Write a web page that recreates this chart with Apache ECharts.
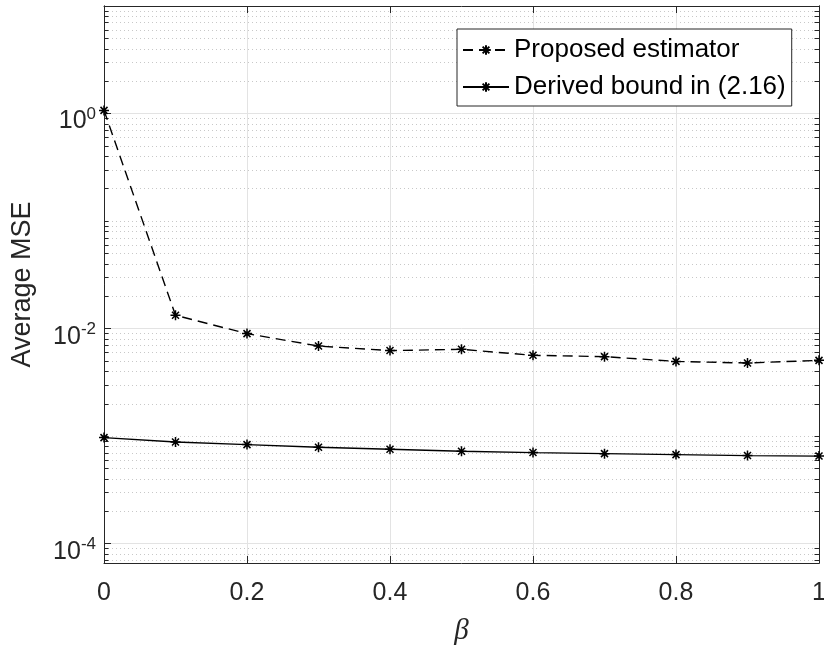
<!DOCTYPE html>
<html>
<head>
<meta charset="utf-8">
<script src="https://cdn.jsdelivr.net/npm/echarts@6/dist/echarts.min.js"></script>
<style>
  html, body { margin: 0; padding: 0; background: #fff; }
  #chart { width: 824px; height: 646px; }
</style>
</head>
<body>
<div id="chart"></div>
<script>
// beta values on the horizontal axis
const betaValues = [0, 0.1, 0.2, 0.3, 0.4, 0.5, 0.6, 0.7, 0.8, 0.9, 1.0];
// Average MSE of the proposed estimator
const proposedMSE = [1.07, 0.0133, 0.00899, 0.00689, 0.00625, 0.00642, 0.00565, 0.00549, 0.00496, 0.00479, 0.00507];
// Derived bound in (2.16)
const boundMSE = [0.000970, 0.000883, 0.000835, 0.000789, 0.000756, 0.000724, 0.000704, 0.000688, 0.000674, 0.000660, 0.000653];
// Labelled decades on the log axis
const majorTicksY = [1e-4, 1e-2, 1];
const yMin = 6.62e-5;
const yMax = 10;

// minor ticks: every 1..9 x 10^k inside the range, except the labelled decades
const minorTicksY = [];
for (let k = -5; k <= 1; k++) {
  for (let m = 1; m <= 9; m++) {
    const v = +(m * Math.pow(10, k)).toPrecision(6);
    if (v >= yMin && v <= yMax && majorTicksY.indexOf(v) < 0) minorTicksY.push(v);
  }
}

const axisColor = '#262626';
const font = 'Liberation Sans, Arial, Helvetica, sans-serif';

const asterisk = 'path://M0,5L10,5M5,0L5,10M1.5,1.5L8.5,8.5M1.5,8.5L8.5,1.5';

function seriesFor(name, values, dashed) {
  return {
    name: name,
    type: 'line',
    xAxisIndex: 0,
    yAxisIndex: 0,
    data: betaValues.map((b, i) => [b, values[i]]),
    symbol: asterisk,
    symbolSize: 10,
    showAllSymbol: true,
    lineStyle: { color: '#000', width: 1.4, type: dashed ? [10, 6] : 'solid' },
    itemStyle: { color: '#000', borderColor: '#000', borderWidth: 1.5 },
    emphasis: { disabled: true },
    animation: false,
    z: 5
  };
}

function logAxis(position, ticks, opts) {
  return Object.assign({
    type: 'log',
    logBase: 10,
    position: position,
    min: yMin,
    max: yMax,
    axisLine: { show: true, onZero: false, lineStyle: { color: axisColor, width: 1 } },
    axisTick: { show: true, inside: true, length: 7, customValues: ticks, lineStyle: { color: axisColor } },
    axisLabel: { show: false },
    splitLine: { show: false },
    minorTick: { show: false },
    minorSplitLine: { show: false }
  }, opts);
}

const chart = echarts.init(document.getElementById('chart'), null, { renderer: 'canvas' });

chart.setOption({
  animation: false,
  backgroundColor: '#ffffff',
  textStyle: { fontFamily: font, color: axisColor },
  grid: { left: 104, right: 5, top: 6, bottom: 83, containLabel: false, outerBoundsMode: 'none' },
  legend: {
    orient: 'vertical',
    left: 457,
    top: 29,
    padding: [8, 6, 6, 5],
    itemGap: 11,
    itemWidth: 46,
    itemHeight: 12,
    backgroundColor: '#ffffff',
    borderColor: axisColor,
    borderWidth: 1,
    borderRadius: 0,
    textStyle: { fontFamily: font, fontSize: 26, color: '#000', lineHeight: 26 },
    data: ['Proposed estimator', 'Derived bound in (2.16)']
  },
  xAxis: [
    {
      type: 'value',
      position: 'bottom',
      min: 0, max: 1, interval: 0.2,
      name: 'β',
      nameLocation: 'middle',
      nameGap: 54,
      nameMoveOverlap: false,
      nameTextStyle: { fontFamily: 'Liberation Serif, serif', fontStyle: 'italic', fontSize: 29, color: axisColor },
      axisLine: { show: true, onZero: false, lineStyle: { color: axisColor } },
      axisTick: { show: true, inside: true, length: 7, lineStyle: { color: axisColor } },
      axisLabel: { fontSize: 25, color: axisColor, margin: 18, fontFamily: font,
        formatter: v => String(+v.toFixed(1)) },
      splitLine: { show: true, lineStyle: { color: '#e3e3e3', width: 1 } }
    },
    {
      type: 'value',
      position: 'top',
      min: 0, max: 1, interval: 0.2,
      axisLine: { show: true, onZero: false, lineStyle: { color: axisColor } },
      axisTick: { show: true, inside: true, length: 7, lineStyle: { color: axisColor } },
      axisLabel: { show: false },
      splitLine: { show: false }
    }
  ],
  yAxis: [
    // labelled decades with solid grid lines
    logAxis('left', majorTicksY, {
      name: 'Average MSE',
      nameLocation: 'middle',
      nameGap: 68,
      nameMoveOverlap: false,
      nameTextStyle: { fontFamily: font, fontSize: 27, color: axisColor },
      axisLabel: {
        show: true,
        customValues: majorTicksY,
        margin: 8,
        padding: [8, 0, 0, 0],
        formatter: v => '{b|10}{e|' + Math.round(Math.log10(v)) + '}',
        rich: {
          b: { fontFamily: font, fontSize: 25, color: axisColor, padding: [8, 0, 0, 0] },
          e: { fontFamily: font, fontSize: 17, color: axisColor, padding: [0, 0, 6, 0] }
        }
      },
      splitLine: { show: true, lineStyle: { color: '#e3e3e3', width: 1 } },
      z: 3
    }),
    // minor decades with dotted grid lines
    logAxis('left', minorTicksY, {
      axisTick: { show: true, inside: true, length: 4.5, customValues: minorTicksY, lineStyle: { color: axisColor } },
      splitLine: { show: true, lineStyle: { color: '#c8c8c8', width: 1, type: [1, 3] } }
    }),
    logAxis('right', majorTicksY, {}),
    logAxis('right', minorTicksY, {
      axisTick: { show: true, inside: true, length: 4.5, customValues: minorTicksY, lineStyle: { color: axisColor } }
    })
  ],
  series: [
    seriesFor('Proposed estimator', proposedMSE, true),
    seriesFor('Derived bound in (2.16)', boundMSE, false)
  ]
});
</script>
</body>
</html>
